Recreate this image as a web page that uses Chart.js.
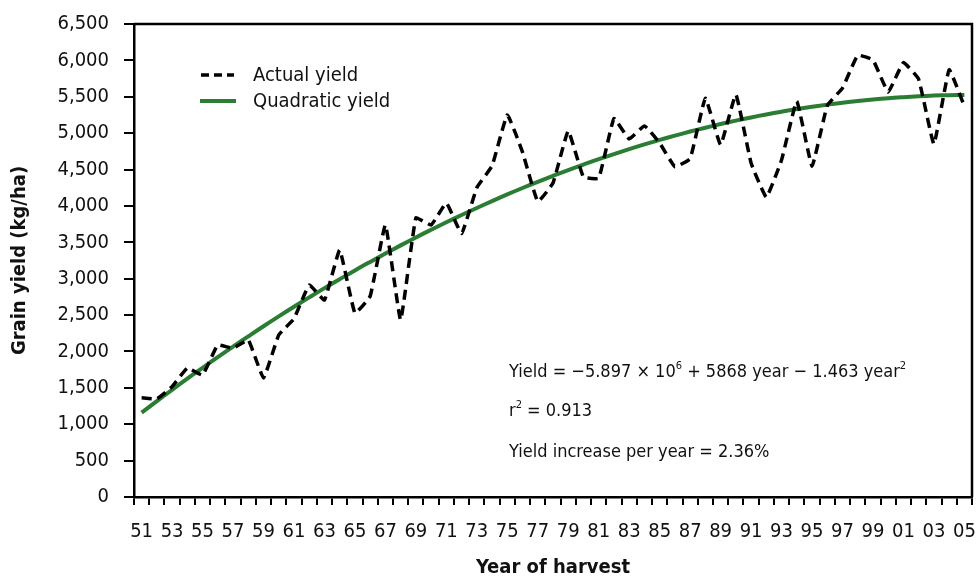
<!DOCTYPE html>
<html><head><meta charset="utf-8">
<script src="https://cdn.jsdelivr.net/npm/chart.js@4.4.1/dist/chart.umd.min.js"></script>
<style>html,body{margin:0;padding:0;background:#fff;}#wrap{width:979px;height:579px;position:relative;}</style>
</head><body><div id="wrap"><canvas id="c" width="979" height="579"></canvas></div>
<script>
const years = [1951,1952,1953,1954,1955,1956,1957,1958,1959,1960,1961,1962,1963,1964,1965,1966,1967,1968,1969,1970,1971,1972,1973,1974,1975,1976,1977,1978,1979,1980,1981,1982,1983,1984,1985,1986,1987,1988,1989,1990,1991,1992,1993,1994,1995,1996,1997,1998,1999,2000,2001,2002,2003,2004,2005];
const actualYield = [1365,1350,1516,1772,1677,2089,2043,2157,1635,2226,2450,2913,2707,3394,2528,2760,3738,2432,3834,3738,4040,3620,4250,4550,5250,4740,4060,4315,5030,4397,4380,5200,4920,5100,4865,4540,4650,5480,4840,5530,4590,4120,4630,5440,4545,5380,5620,6070,6005,5565,5970,5740,4850,5870,5370];
const quadraticYield = [1159,1318,1473,1626,1776,1923,2067,2208,2347,2482,2614,2743,2870,2993,3114,3231,3346,3458,3567,3672,3775,3875,3972,4066,4158,4246,4331,4413,4493,4569,4643,4713,4781,4846,4907,4966,5022,5075,5125,5172,5216,5257,5295,5331,5363,5392,5419,5442,5463,5481,5495,5507,5516,5522,5525];
const xTickLabels = ['51','53','55','57','59','61','63','65','67','69','71','73','75','77','79','81','83','85','87','89','91','93','95','97','99','01','03','05'];
const yTicks = [0,500,1000,1500,2000,2500,3000,3500,4000,4500,5000,5500,6000,6500];

const F = "'Liberation Sans Narrow','DejaVu Sans Condensed','Open Sans',sans-serif";
const GREEN = '#2a7d33';

const overlay = {
  id:'overlay',
  afterDatasetsDraw(chart){
    const {ctx, chartArea:a} = chart;
    ctx.save();
    ctx.strokeStyle='#000'; ctx.lineWidth=2.5;
    ctx.beginPath();
    ctx.moveTo(a.left, a.top); ctx.lineTo(a.right, a.top); ctx.lineTo(a.right, a.bottom);
    ctx.stroke();
    // legend
    ctx.lineWidth=3.5; ctx.setLineDash([8,5]);
    ctx.beginPath(); ctx.moveTo(201,75); ctx.lineTo(234,75); ctx.stroke();
    ctx.setLineDash([]); ctx.strokeStyle=GREEN; ctx.lineWidth=4;
    ctx.beginPath(); ctx.moveTo(200,101); ctx.lineTo(236,101); ctx.stroke();
    ctx.fillStyle='#111'; ctx.textBaseline='middle'; ctx.textAlign='left';
    ctx.font = "20px " + F;
    ctx.fillText('Actual yield', 253, 76);
    ctx.fillText('Quadratic yield', 253, 102);
    // annotations
    const main = "18px " + F, sup = "11px " + F;
    let x = 509, y = 372;
    const put = (t, f, dy) => { ctx.font = f; ctx.fillText(t, x, y + dy); x += ctx.measureText(t).width; };
    put('Yield = \u22125.897 \u00d7 10', main, 0);
    put('6', sup, -6);
    put(' + 5868 year \u2212 1.463 year', main, 0);
    put('2', sup, -6);
    x = 509; y = 411;
    put('r', main, 0);
    put('2', sup, -6);
    put(' = 0.913', main, 0);
    x = 509; y = 452;
    put('Yield increase per year = 2.36%', main, 0);
    ctx.restore();
  }
};

new Chart(document.getElementById('c').getContext('2d'), {
  type:'line',
  data:{
    labels: years.map(String),
    datasets:[
      {label:'Actual yield', data:actualYield, borderColor:'#000', borderWidth:3.5, borderDash:[10,6], pointRadius:0, tension:0.1, fill:false, borderCapStyle:'butt'},
      {label:'Quadratic yield', data:quadraticYield, borderColor:GREEN, borderWidth:4, pointRadius:0, tension:0.4, fill:false}
    ]
  },
  options:{
    responsive:false, animation:false, devicePixelRatio:1,
    layout:{padding:{top:24,right:7,left:0,bottom:0}},
    plugins:{legend:{display:false}, tooltip:{enabled:false}},
    scales:{
      x:{
        type:'category', offset:true,
        grid:{display:true, offset:true, drawOnChartArea:false, drawTicks:true, tickLength:8, color:'#000', lineWidth:2},
        border:{display:true, color:'#000', width:2.5},
        ticks:{autoSkip:false, maxRotation:0, minRotation:0, padding:15, color:'#111', font:{family:F, size:20},
          callback:(v,i)=> (i%2===0 ? xTickLabels[i/2] : '')},
        title:{display:true, text:'Year of harvest', color:'#111', font:{family:F, size:20, weight:'bold', lineHeight:1}, padding:{top:0,bottom:1}},
        afterFit(s){ s.height = 579-497; s.paddingLeft = 0; s.paddingRight = 0; }
      },
      y:{
        min:0, max:6500,
        afterBuildTicks(s){ s.ticks = yTicks.map(v=>({value:v})); },
        grid:{display:true, drawOnChartArea:false, drawTicks:true, tickLength:10, color:'#000', lineWidth:2},
        border:{display:true, color:'#000', width:2.5},
        ticks:{padding:15, color:'#111', font:{family:F, size:20}, callback:v=>Number(v).toLocaleString('en-US')},
        title:{display:true, text:'Grain yield (kg/ha)', color:'#111', font:{family:F, size:20, weight:'bold', lineHeight:1}, padding:{top:10,bottom:0}},
        afterFit(s){ s.width = 134; s.paddingTop = 0; s.paddingBottom = 0; }
      }
    }
  },
  plugins:[overlay]
});
</script></body></html>
